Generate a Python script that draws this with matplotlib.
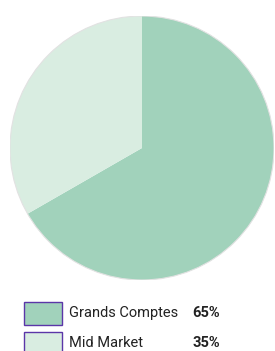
import matplotlib
matplotlib.use("Agg")
import matplotlib.pyplot as plt
from matplotlib.patches import Rectangle, Circle

labels = ["Grands Comptes", "Mid Market"]
pct_text = ["65%", "35%"]
slice_sizes = [66.7, 33.3]   # as drawn in the picture
colors = ["#a1d2bb", "#d9ede1"]

W, H = 275, 351
fig = plt.figure(figsize=(W / 100, H / 100), dpi=100)

# pie: centre ~ (142,148) px, radius ~132 px
ax = fig.add_axes([10 / W, (H - 280) / H, 264 / W, 264 / H])
ax.pie(slice_sizes, colors=colors, startangle=90, counterclock=False,
       radius=1.0, wedgeprops=dict(linewidth=0))
ax.add_patch(Circle((0, 0), 1.0, fill=False, ec="#e2e2e2", lw=0.8))
ax.set_xlim(-1.0, 1.0); ax.set_ylim(-1.0, 1.0)
ax.set_aspect("equal")
ax.axis("off")

# legend drawn by hand
rows_y = [313, 343]
for y, lab, p, c in zip(rows_y, labels, pct_text, colors):
    fig.add_artist(Rectangle((24 / W, (H - y - 11.5) / H), 38 / W, 23 / H,
                             transform=fig.transFigure, fc=c, ec="#5b36a8", lw=1.0))
    fig.text(69 / W, (H - y) / H, lab, ha="left", va="center",
             fontsize=10.5, family="Roboto", color="#222222")
    fig.text(192 / W, (H - y) / H, p, ha="left", va="center",
             fontsize=10.5, family="Roboto", fontweight="bold", color="#222222")

fig.savefig("out.png", dpi=100)
